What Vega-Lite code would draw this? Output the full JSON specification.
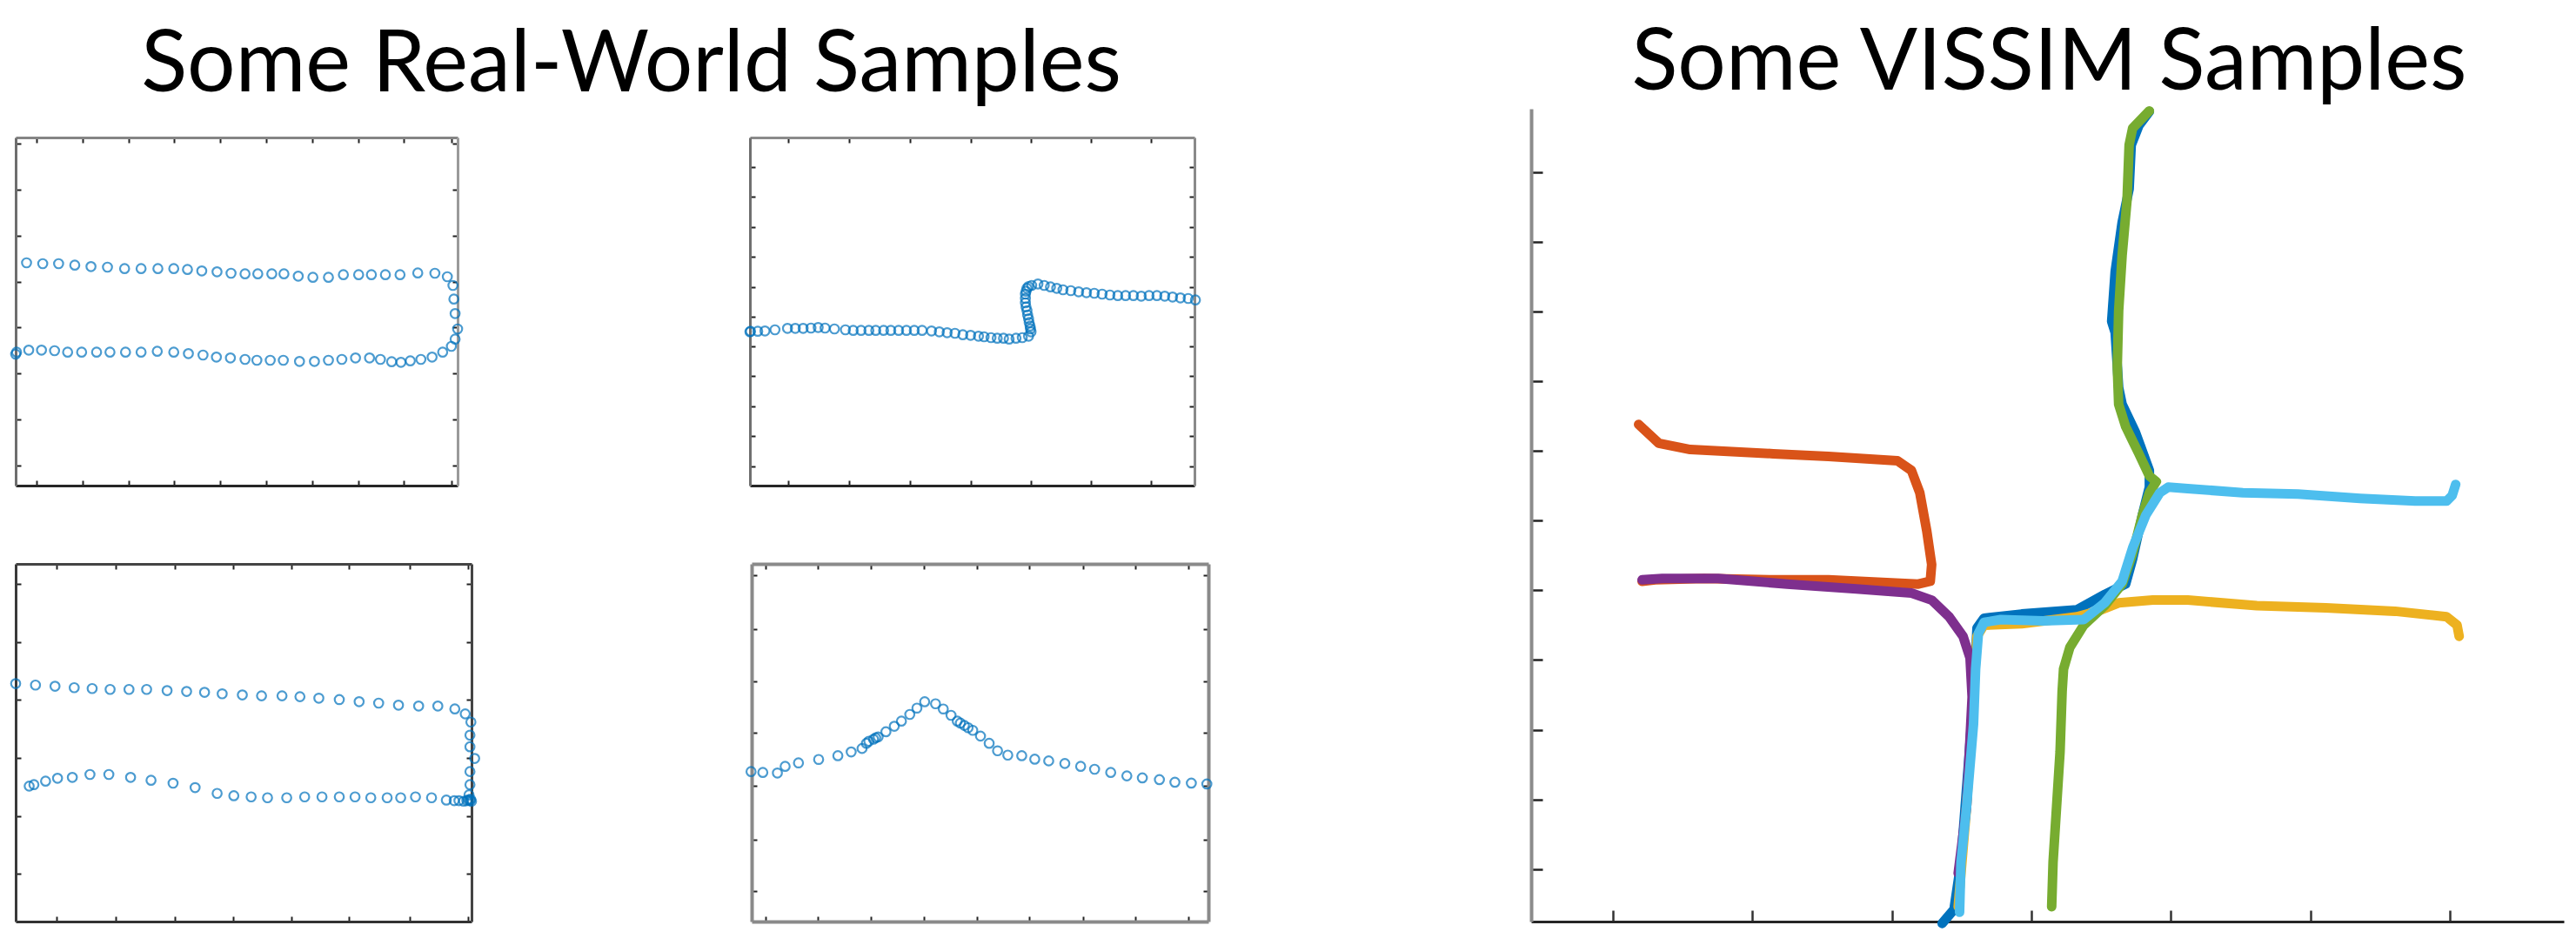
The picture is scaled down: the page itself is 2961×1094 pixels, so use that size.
{
  "$schema": "https://vega.github.io/schema/vega-lite/v6.json",
  "background": "white",
  "padding": {"left": 8, "top": 24, "right": 5, "bottom": 0},
  "config": {
    "view": {"stroke": null},
    "axis": {"labels": false, "title": null, "grid": false, "ticks": true, "tickColor": "#222222", "tickWidth": 2, "tickSize": -6, "domainWidth": 3}
  },
  "datasets": {
    "p1": [
      {"x":5.0,"y":45.3},{"x":5.3,"y":46.0},{"x":9.2,"y":46.7},{"x":13.3,"y":46.7},{"x":17.5,"y":46.5},{"x":21.7,"y":46.0},{"x":26.2,"y":46.0},{"x":31.0,"y":46.0},{"x":35.3,"y":46.0},{"x":40.3,"y":46.0},{"x":45.3,"y":46.0},{"x":50.5,"y":46.3},{"x":55.8,"y":46.0},{"x":60.5,"y":45.5},{"x":65.2,"y":45.0},{"x":69.5,"y":44.3},{"x":74.0,"y":44.0},{"x":78.7,"y":43.5},{"x":82.5,"y":43.2},{"x":86.8,"y":43.2},{"x":91.0,"y":43.2},{"x":96.2,"y":42.8},{"x":101.0,"y":42.8},{"x":105.5,"y":43.2},{"x":109.8,"y":43.5},{"x":114.2,"y":44.0},{"x":118.7,"y":44.0},{"x":122.2,"y":43.5},{"x":125.8,"y":42.7},{"x":128.8,"y":42.5},{"x":131.8,"y":43.0},{"x":135.2,"y":43.5},{"x":138.8,"y":44.3},{"x":142.2,"y":46.0},{"x":145.0,"y":48.0},{"x":146.2,"y":50.5},{"x":147.0,"y":54.0},{"x":146.2,"y":59.3},{"x":145.8,"y":64.3},{"x":145.5,"y":69.0},{"x":143.7,"y":72.0},{"x":139.7,"y":73.2},{"x":134.2,"y":73.3},{"x":128.5,"y":72.7},{"x":123.8,"y":72.7},{"x":119.3,"y":72.7},{"x":115.2,"y":72.7},{"x":110.3,"y":72.7},{"x":105.5,"y":71.8},{"x":100.5,"y":71.8},{"x":95.8,"y":72.2},{"x":91.2,"y":73.0},{"x":87.3,"y":73.0},{"x":82.8,"y":73.0},{"x":78.7,"y":73.0},{"x":74.2,"y":73.2},{"x":69.7,"y":73.7},{"x":64.8,"y":74.0},{"x":60.2,"y":74.5},{"x":55.8,"y":74.8},{"x":50.7,"y":74.8},{"x":45.3,"y":74.8},{"x":40.0,"y":74.8},{"x":34.5,"y":75.3},{"x":29.2,"y":75.5},{"x":24.0,"y":76.0},{"x":18.8,"y":76.5},{"x":13.7,"y":76.5},{"x":8.5,"y":76.8}
    ],
    "p2": [
      {"x":6.0,"y":53.0},{"x":6.2,"y":53.2},{"x":8.5,"y":53.2},{"x":10.8,"y":53.3},{"x":14.0,"y":53.7},{"x":18.0,"y":54.2},{"x":20.5,"y":54.2},{"x":23.0,"y":54.2},{"x":25.5,"y":54.3},{"x":27.8,"y":54.5},{"x":30.0,"y":54.3},{"x":33.0,"y":54.0},{"x":36.5,"y":53.7},{"x":39.0,"y":53.5},{"x":41.5,"y":53.5},{"x":44.0,"y":53.5},{"x":46.2,"y":53.5},{"x":48.7,"y":53.5},{"x":51.0,"y":53.5},{"x":53.5,"y":53.5},{"x":56.0,"y":53.5},{"x":58.5,"y":53.5},{"x":61.0,"y":53.5},{"x":64.0,"y":53.3},{"x":66.5,"y":53.0},{"x":69.0,"y":52.7},{"x":71.5,"y":52.5},{"x":74.0,"y":52.0},{"x":76.5,"y":51.8},{"x":79.0,"y":51.5},{"x":80.8,"y":51.3},{"x":83.0,"y":51.0},{"x":85.0,"y":50.8},{"x":87.0,"y":50.8},{"x":88.8,"y":50.5},{"x":91.0,"y":50.8},{"x":93.0,"y":51.0},{"x":95.0,"y":51.5},{"x":95.8,"y":53.0},{"x":95.6,"y":54.0},{"x":95.5,"y":55.0},{"x":95.2,"y":56.2},{"x":95.0,"y":57.5},{"x":94.7,"y":58.8},{"x":94.5,"y":60.3},{"x":94.2,"y":61.6},{"x":94.0,"y":63.0},{"x":94.0,"y":64.5},{"x":94.0,"y":66.0},{"x":94.2,"y":67.0},{"x":94.5,"y":68.0},{"x":95.0,"y":68.6},{"x":96.0,"y":69.0},{"x":98.0,"y":69.5},{"x":100.0,"y":69.0},{"x":102.0,"y":68.5},{"x":104.0,"y":68.0},{"x":106.0,"y":67.5},{"x":108.5,"y":67.2},{"x":111.0,"y":66.8},{"x":113.5,"y":66.5},{"x":116.0,"y":66.3},{"x":118.5,"y":66.0},{"x":121.0,"y":65.7},{"x":123.5,"y":65.5},{"x":126.0,"y":65.5},{"x":128.5,"y":65.5},{"x":131.0,"y":65.3},{"x":133.5,"y":65.5},{"x":136.0,"y":65.5},{"x":138.5,"y":65.3},{"x":141.0,"y":65.0},{"x":143.5,"y":64.7},{"x":146.0,"y":64.5},{"x":148.3,"y":64.0}
    ],
    "p3": [
      {"x":5.7,"y":81.7},{"x":12.0,"y":81.2},{"x":18.2,"y":80.8},{"x":24.3,"y":80.3},{"x":30.0,"y":80.0},{"x":35.7,"y":79.7},{"x":41.7,"y":79.7},{"x":47.3,"y":79.7},{"x":53.8,"y":79.3},{"x":60.0,"y":79.0},{"x":65.7,"y":78.7},{"x":71.3,"y":78.2},{"x":77.7,"y":77.8},{"x":83.8,"y":77.5},{"x":90.3,"y":77.5},{"x":96.0,"y":77.2},{"x":102.0,"y":76.7},{"x":108.5,"y":76.2},{"x":114.8,"y":75.5},{"x":121.0,"y":75.0},{"x":127.3,"y":74.3},{"x":133.7,"y":74.0},{"x":139.8,"y":74.0},{"x":145.2,"y":73.0},{"x":148.5,"y":71.3},{"x":150.3,"y":68.5},{"x":150.0,"y":64.0},{"x":150.0,"y":60.0},{"x":151.5,"y":56.0},{"x":150.0,"y":51.5},{"x":150.0,"y":47.0},{"x":149.7,"y":43.5},{"x":150.0,"y":41.5},
      {"x":10.0,"y":46.5},{"x":11.5,"y":47.0},{"x":15.2,"y":48.2},{"x":19.0,"y":49.2},{"x":23.7,"y":49.5},{"x":29.3,"y":50.5},{"x":35.3,"y":50.5},{"x":42.2,"y":49.5},{"x":48.7,"y":48.5},{"x":55.7,"y":47.5},{"x":62.7,"y":46.0},{"x":69.7,"y":44.0},{"x":75.0,"y":43.2},{"x":80.5,"y":42.8},{"x":85.7,"y":42.5},{"x":91.8,"y":42.5},{"x":97.5,"y":42.8},{"x":103.0,"y":42.8},{"x":108.5,"y":42.8},{"x":113.5,"y":42.8},{"x":118.5,"y":42.5},{"x":123.7,"y":42.5},{"x":128.0,"y":42.5},{"x":132.7,"y":42.8},{"x":137.8,"y":42.5},{"x":142.5,"y":41.7},{"x":145.0,"y":41.5},{"x":146.5,"y":41.5},{"x":148.0,"y":41.3},{"x":149.0,"y":41.5},{"x":150.5,"y":41.3},{"x":149.5,"y":41.8},{"x":150.2,"y":42.0}
    ],
    "p4": [
      {"x":6.0,"y":52.0},{"x":9.8,"y":51.7},{"x":14.5,"y":51.5},{"x":17.0,"y":53.8},{"x":21.3,"y":55.0},{"x":27.8,"y":56.2},{"x":34.0,"y":57.5},{"x":38.3,"y":58.8},{"x":41.8,"y":60.0},{"x":43.2,"y":61.8},{"x":44.0,"y":62.5},{"x":45.5,"y":63.2},{"x":46.2,"y":63.7},{"x":47.0,"y":64.0},{"x":49.5,"y":65.8},{"x":52.2,"y":67.7},{"x":54.5,"y":69.5},{"x":57.2,"y":71.8},{"x":59.5,"y":74.0},{"x":62.0,"y":76.2},{"x":65.5,"y":75.5},{"x":68.0,"y":73.7},{"x":70.5,"y":71.5},{"x":72.5,"y":69.5},{"x":73.5,"y":68.8},{"x":74.8,"y":68.0},{"x":76.0,"y":67.2},{"x":77.5,"y":66.3},{"x":80.0,"y":64.3},{"x":82.8,"y":61.8},{"x":85.5,"y":59.2},{"x":88.8,"y":57.7},{"x":93.3,"y":57.5},{"x":97.5,"y":56.3},{"x":102.0,"y":55.7},{"x":107.2,"y":54.8},{"x":112.3,"y":53.8},{"x":116.8,"y":52.8},{"x":122.0,"y":51.7},{"x":127.2,"y":50.5},{"x":132.2,"y":49.8},{"x":137.7,"y":49.2},{"x":142.7,"y":48.3},{"x":148.0,"y":48.0},{"x":153.0,"y":47.7}
    ],
    "vissim": [
      {"traj":"T1","i":0,"x":-12.8,"y":-7.8},{"traj":"T1","i":1,"x":-11.1,"y":-5.8},{"traj":"T1","i":2,"x":-10.1,"y":1.0},{"traj":"T1","i":3,"x":-8.3,"y":24.7},{"traj":"T1","i":4,"x":-7.8,"y":34.6},{"traj":"T1","i":5,"x":-6.8,"y":36.0},{"traj":"T1","i":6,"x":-1.4,"y":36.6},{"traj":"T1","i":7,"x":6.5,"y":37.2},{"traj":"T1","i":8,"x":10.5,"y":39.4},{"traj":"T1","i":9,"x":13.5,"y":40.9},{"traj":"T1","i":10,"x":14.5,"y":44.5},{"traj":"T1","i":11,"x":15.9,"y":50.8},{"traj":"T1","i":12,"x":16.9,"y":54.8},{"traj":"T1","i":13,"x":16.9,"y":57.2},{"traj":"T1","i":14,"x":14.9,"y":62.7},{"traj":"T1","i":15,"x":13.0,"y":66.7},{"traj":"T1","i":16,"x":12.5,"y":69.1},{"traj":"T1","i":17,"x":12.0,"y":77.0},{"traj":"T1","i":18,"x":11.5,"y":78.6},{"traj":"T1","i":19,"x":12.0,"y":85.7},{"traj":"T1","i":20,"x":13.0,"y":92.8},{"traj":"T1","i":21,"x":14.0,"y":97.6},{"traj":"T1","i":22,"x":14.3,"y":103.9},{"traj":"T1","i":23,"x":15.4,"y":106.7},{"traj":"T1","i":24,"x":16.9,"y":108.7},
      {"traj":"T2","i":0,"x":-56.3,"y":63.8},{"traj":"T2","i":1,"x":-53.4,"y":61.1},{"traj":"T2","i":2,"x":-48.9,"y":60.2},{"traj":"T2","i":3,"x":-37.0,"y":59.6},{"traj":"T2","i":4,"x":-29.1,"y":59.2},{"traj":"T2","i":5,"x":-19.2,"y":58.6},{"traj":"T2","i":6,"x":-17.2,"y":57.2},{"traj":"T2","i":7,"x":-16.0,"y":54.0},{"traj":"T2","i":8,"x":-15.0,"y":48.5},{"traj":"T2","i":9,"x":-14.3,"y":43.7},{"traj":"T2","i":10,"x":-14.5,"y":41.3},{"traj":"T2","i":11,"x":-16.2,"y":40.9},{"traj":"T2","i":12,"x":-29.1,"y":41.5},{"traj":"T2","i":13,"x":-37.0,"y":41.5},{"traj":"T2","i":14,"x":-46.9,"y":41.7},{"traj":"T2","i":15,"x":-53.9,"y":41.5},{"traj":"T2","i":16,"x":-55.8,"y":41.3},
      {"traj":"T3","i":0,"x":61.3,"y":33.4},{"traj":"T3","i":1,"x":61.0,"y":35.0},{"traj":"T3","i":2,"x":59.5,"y":36.2},{"traj":"T3","i":3,"x":52.1,"y":37.0},{"traj":"T3","i":4,"x":42.2,"y":37.5},{"traj":"T3","i":5,"x":32.3,"y":37.8},{"traj":"T3","i":6,"x":22.4,"y":38.6},{"traj":"T3","i":7,"x":17.4,"y":38.6},{"traj":"T3","i":8,"x":12.5,"y":38.2},{"traj":"T3","i":9,"x":9.5,"y":37.0},{"traj":"T3","i":10,"x":6.5,"y":36.2},{"traj":"T3","i":11,"x":-1.4,"y":35.2},{"traj":"T3","i":12,"x":-6.8,"y":35.0},{"traj":"T3","i":13,"x":-7.8,"y":33.4},{"traj":"T3","i":14,"x":-8.3,"y":24.7},{"traj":"T3","i":15,"x":-9.3,"y":8.9},{"traj":"T3","i":16,"x":-10.5,"y":-5.4},
      {"traj":"T4","i":0,"x":-55.8,"y":41.5},{"traj":"T4","i":1,"x":-52.9,"y":41.7},{"traj":"T4","i":2,"x":-44.9,"y":41.7},{"traj":"T4","i":3,"x":-35.0,"y":40.9},{"traj":"T4","i":4,"x":-25.1,"y":40.2},{"traj":"T4","i":5,"x":-17.2,"y":39.6},{"traj":"T4","i":6,"x":-14.3,"y":38.6},{"traj":"T4","i":7,"x":-11.8,"y":36.2},{"traj":"T4","i":8,"x":-9.8,"y":33.4},{"traj":"T4","i":9,"x":-8.8,"y":30.3},{"traj":"T4","i":10,"x":-8.5,"y":24.7},{"traj":"T4","i":11,"x":-9.3,"y":8.9},{"traj":"T4","i":12,"x":-10.5,"y":-0.6},
      {"traj":"T5","i":0,"x":16.9,"y":108.8},{"traj":"T5","i":1,"x":14.5,"y":106.3},{"traj":"T5","i":2,"x":14.0,"y":103.9},{"traj":"T5","i":3,"x":13.7,"y":96.0},{"traj":"T5","i":4,"x":13.0,"y":88.1},{"traj":"T5","i":5,"x":12.5,"y":80.1},{"traj":"T5","i":6,"x":12.3,"y":72.2},{"traj":"T5","i":7,"x":12.5,"y":66.7},{"traj":"T5","i":8,"x":13.5,"y":63.5},{"traj":"T5","i":9,"x":15.4,"y":59.6},{"traj":"T5","i":10,"x":16.9,"y":56.4},{"traj":"T5","i":11,"x":17.9,"y":55.6},{"traj":"T5","i":12,"x":16.9,"y":54.0},{"traj":"T5","i":13,"x":15.9,"y":50.8},{"traj":"T5","i":14,"x":14.5,"y":45.3},{"traj":"T5","i":15,"x":13.0,"y":40.9},{"traj":"T5","i":16,"x":10.5,"y":37.8},{"traj":"T5","i":17,"x":7.5,"y":35.0},{"traj":"T5","i":18,"x":5.5,"y":31.8},{"traj":"T5","i":19,"x":4.6,"y":28.7},{"traj":"T5","i":20,"x":4.4,"y":25.5},{"traj":"T5","i":21,"x":4.1,"y":16.8},{"traj":"T5","i":22,"x":3.6,"y":8.9},{"traj":"T5","i":23,"x":3.1,"y":1.0},{"traj":"T5","i":24,"x":2.9,"y":-5.4},
      {"traj":"T6","i":0,"x":-10.3,"y":-6.2},{"traj":"T6","i":1,"x":-10.1,"y":1.0},{"traj":"T6","i":2,"x":-9.3,"y":8.9},{"traj":"T6","i":3,"x":-8.3,"y":20.8},{"traj":"T6","i":4,"x":-8.0,"y":28.7},{"traj":"T6","i":5,"x":-7.6,"y":33.8},{"traj":"T6","i":6,"x":-6.8,"y":35.4},{"traj":"T6","i":7,"x":-4.4,"y":35.8},{"traj":"T6","i":8,"x":1.6,"y":35.6},{"traj":"T6","i":9,"x":7.5,"y":35.8},{"traj":"T6","i":10,"x":10.5,"y":38.2},{"traj":"T6","i":11,"x":13.0,"y":41.3},{"traj":"T6","i":12,"x":14.5,"y":46.1},{"traj":"T6","i":13,"x":16.4,"y":50.8},{"traj":"T6","i":14,"x":18.4,"y":54.0},{"traj":"T6","i":15,"x":19.6,"y":54.8},{"traj":"T6","i":16,"x":22.4,"y":54.6},{"traj":"T6","i":17,"x":30.3,"y":54.0},{"traj":"T6","i":18,"x":38.2,"y":53.8},{"traj":"T6","i":19,"x":47.1,"y":53.2},{"traj":"T6","i":20,"x":55.0,"y":52.8},{"traj":"T6","i":21,"x":59.5,"y":52.8},{"traj":"T6","i":22,"x":60.3,"y":53.6},{"traj":"T6","i":23,"x":60.8,"y":55.2}
    ]
  },
  "center": true,
  "spacing": 361,
  "hconcat": [
    {
      "title": {"text": "Some Real-World Samples", "font": "Lato", "fontSize": 98, "fontWeight": "normal", "color": "#000000", "anchor": "middle", "offset": 31, "dx": 23},
      "spacing": 88,
      "vconcat": [
        {
          "spacing": 316,
          "hconcat": [
            {
              "width": 508, "height": 400,
              "data": {"name": "p1"},
              "layer": [
                {
                  "mark": {"type": "point", "shape": "circle", "filled": false, "size": 110, "strokeWidth": 2.2, "color": "#0072BD"},
                  "encoding": {
                    "x": {"field": "x", "type": "quantitative", "scale": {"domain": [5, 147], "nice": false, "zero": false}, "axis": {"orient": "bottom", "values": [11.8, 26.5, 41.2, 56.0, 70.7, 85.5, 100.2, 115.0, 129.8, 145.0], "domainColor": "#262626"}},
                    "y": {"field": "y", "type": "quantitative", "scale": {"domain": [0, 120], "nice": false, "zero": false}, "axis": {"orient": "left", "values": [117.8, 102, 86.2, 70.3, 54.5, 38.7, 22.8, 6.8], "domainColor": "#6e6e6e"}}
                  }
                },
                {
                  "mark": {"type": "point", "opacity": 0},
                  "encoding": {
                    "x": {"field": "x", "type": "quantitative", "axis": {"orient": "top", "values": [11.8, 26.5, 41.2, 56.0, 70.7, 85.5, 100.2, 115.0, 129.8, 145.0], "domainColor": "#858585"}},
                    "y": {"field": "y", "type": "quantitative", "axis": {"orient": "right", "values": [117.8, 102, 86.2, 70.3, 54.5, 38.7, 22.8, 6.8], "domainColor": "#9a9a9a"}}
                  }
                }
              ],
              "resolve": {"axis": {"x": "independent", "y": "independent"}}
            },
            {
              "width": 511, "height": 400,
              "data": {"name": "p2"},
              "layer": [
                {
                  "mark": {"type": "point", "shape": "circle", "filled": false, "size": 110, "strokeWidth": 2.2, "color": "#0072BD"},
                  "encoding": {
                    "x": {"field": "x", "type": "quantitative", "scale": {"domain": [6, 148], "nice": false, "zero": false}, "axis": {"orient": "bottom", "values": [18.3, 37.8, 57.2, 76.5, 95.8, 114.8, 134.0], "domainColor": "#262626"}},
                    "y": {"field": "y", "type": "quantitative", "scale": {"domain": [0, 120], "nice": false, "zero": false}, "axis": {"orient": "left", "values": [109.8, 99.5, 89.2, 78.8, 68.5, 58.3, 48.0, 37.7, 27.3, 17.0, 6.5], "domainColor": "#707070"}}
                  }
                },
                {
                  "mark": {"type": "point", "opacity": 0},
                  "encoding": {
                    "x": {"field": "x", "type": "quantitative", "axis": {"orient": "top", "values": [18.3, 37.8, 57.2, 76.5, 95.8, 114.8, 134.0], "domainColor": "#8a8a8a"}},
                    "y": {"field": "y", "type": "quantitative", "axis": {"orient": "right", "values": [109.8, 99.5, 89.2, 78.8, 68.5, 58.3, 48.0, 37.7, 27.3, 17.0, 6.5], "domainColor": "#8a8a8a"}}
                  }
                }
              ],
              "resolve": {"axis": {"x": "independent", "y": "independent"}}
            }
          ]
        },
        {
          "spacing": 297,
          "hconcat": [
            {
              "width": 524, "height": 411,
              "data": {"name": "p3"},
              "layer": [
                {
                  "mark": {"type": "point", "shape": "circle", "filled": false, "size": 110, "strokeWidth": 2.2, "color": "#0072BD"},
                  "encoding": {
                    "x": {"field": "x", "type": "quantitative", "scale": {"domain": [5.7, 150.5], "nice": false, "zero": false}, "axis": {"orient": "bottom", "values": [18.8, 37.5, 56.3, 74.8, 93.2, 111.5, 131.0, 149.3], "domainColor": "#333333"}},
                    "y": {"field": "y", "type": "quantitative", "scale": {"domain": [0, 122.8], "nice": false, "zero": false}, "axis": {"orient": "left", "values": [116.0, 96.0, 76.2, 56.3, 36.3, 16.3], "domainColor": "#3a3a3a"}}
                  }
                },
                {
                  "mark": {"type": "point", "opacity": 0},
                  "encoding": {
                    "x": {"field": "x", "type": "quantitative", "axis": {"orient": "top", "values": [18.8, 37.5, 56.3, 74.8, 93.2, 111.5, 131.0, 149.3], "domainColor": "#444444"}},
                    "y": {"field": "y", "type": "quantitative", "axis": {"orient": "right", "values": [116.0, 96.0, 76.2, 56.3, 36.3, 16.3], "domainColor": "#444444"}}
                  }
                }
              ],
              "resolve": {"axis": {"x": "independent", "y": "independent"}}
            },
            {
              "width": 525, "height": 411,
              "data": {"name": "p4"},
              "layer": [
                {
                  "mark": {"type": "point", "shape": "circle", "filled": false, "size": 110, "strokeWidth": 2.2, "color": "#0072BD"},
                  "encoding": {
                    "x": {"field": "x", "type": "quantitative", "scale": {"domain": [6.2, 153.5], "nice": false, "zero": false}, "axis": {"orient": "bottom", "values": [10.8, 27.5, 44.5, 61.8, 79.0, 95.8, 113.0, 130.0, 147.0], "domainColor": "#8a8a8a", "domainWidth": 4}},
                    "y": {"field": "y", "type": "quantitative", "scale": {"domain": [0, 124], "nice": false, "zero": false}, "axis": {"orient": "left", "values": [120.0, 101.5, 83.3, 65.5, 47.0, 28.5, 10.5], "domainColor": "#8a8a8a", "domainWidth": 4}}
                  }
                },
                {
                  "mark": {"type": "point", "opacity": 0},
                  "encoding": {
                    "x": {"field": "x", "type": "quantitative", "axis": {"orient": "top", "values": [10.8, 27.5, 44.5, 61.8, 79.0, 95.8, 113.0, 130.0, 147.0], "domainColor": "#8a8a8a", "domainWidth": 4}},
                    "y": {"field": "y", "type": "quantitative", "axis": {"orient": "right", "values": [120.0, 101.5, 83.3, 65.5, 47.0, 28.5, 10.5], "domainColor": "#8a8a8a", "domainWidth": 4}}
                  }
                }
              ],
              "resolve": {"axis": {"x": "independent", "y": "independent"}}
            }
          ]
        }
      ]
    },
    {
      "title": {"text": "Some VISSIM Samples", "font": "Lato", "fontSize": 98, "fontWeight": "normal", "color": "#000000", "anchor": "middle", "offset": -2, "dx": 2},
      "width": 1187, "height": 934,
      "data": {"name": "vissim"},
      "mark": {"type": "line", "strokeWidth": 11, "strokeCap": "round", "strokeJoin": "round"},
      "encoding": {
        "x": {"field": "x", "type": "quantitative", "scale": {"domain": [-71.7, 76.3], "nice": false, "zero": false}, "axis": {"values": [-60, -40, -20, 0, 20, 40, 60], "tickSize": -13, "tickWidth": 2.5, "tickColor": "#333333", "domainColor": "#262626", "domainWidth": 3, "minExtent": 34}},
        "y": {"field": "y", "type": "quantitative", "scale": {"domain": [-7.53, 109.1], "nice": false, "zero": false}, "axis": {"values": [0, 10, 20, 30, 40, 50, 60, 70, 80, 90, 100], "tickSize": -13, "tickWidth": 2.5, "tickColor": "#222222", "domainColor": "#8c8c8c", "domainWidth": 4}},
        "color": {"field": "traj", "type": "nominal", "scale": {"domain": ["T1", "T2", "T3", "T4", "T5", "T6"], "range": ["#0072BD", "#D95319", "#EDB120", "#7E2F8E", "#77AC30", "#4DBEEE"]}, "legend": null},
        "order": {"field": "i", "type": "quantitative"}
      }
    }
  ]
}
